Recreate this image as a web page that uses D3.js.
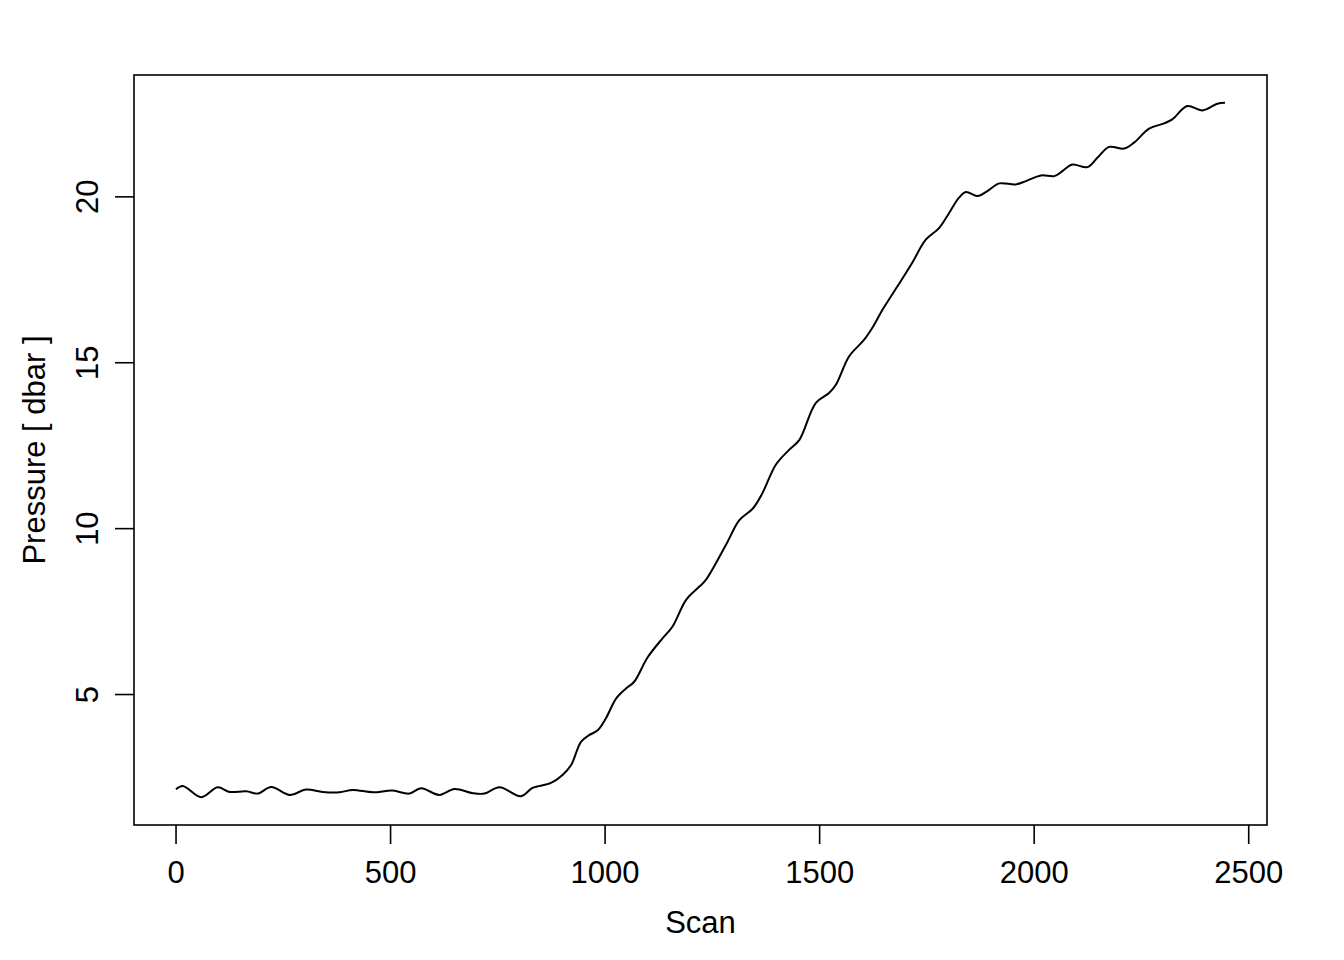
<!DOCTYPE html>
<html>
<head>
<meta charset="utf-8">
<script src="https://cdn.jsdelivr.net/npm/d3@7"></script>
<style>
  body { margin: 0; background: #fff; }
  text { font-family: "Liberation Sans", Arial, Helvetica, sans-serif; }
</style>
</head>
<body>
<svg></svg>
<script>
// Data (scan number vs. pressure in dbar)
const scan = [
  1, 17, 60, 98, 126, 165, 192, 223, 266, 304, 343, 382, 413, 460, 506, 545,
  572, 615, 650, 693, 720, 755, 805, 832, 875, 902, 922, 945, 964, 984, 1003,
  1027, 1050, 1069, 1100, 1135, 1158, 1190, 1221, 1236, 1283, 1314, 1346, 1368,
  1399, 1430, 1454, 1492, 1523, 1539, 1570, 1605, 1624, 1648, 1690, 1717, 1749,
  1780, 1803, 1826, 1842, 1869, 1892, 1920, 1958, 1982, 2017, 2048, 2067, 2090,
  2125, 2149, 2176, 2211, 2234, 2269, 2304, 2323, 2358, 2393, 2428, 2446
];
const pressure = [
  2.13, 2.23, 1.89, 2.19, 2.05, 2.07, 2.0, 2.2, 1.96, 2.12, 2.05, 2.04, 2.11,
  2.04, 2.09, 2.0, 2.16, 1.96, 2.14, 2.01, 2.0, 2.19, 1.92, 2.17, 2.32, 2.56,
  2.86, 3.56, 3.76, 3.91, 4.27, 4.87, 5.17, 5.37, 6.1, 6.68, 7.03, 7.84, 8.24,
  8.44, 9.5, 10.24, 10.6, 11.06, 11.91, 12.36, 12.66, 13.77, 14.07, 14.32,
  15.18, 15.68, 16.04, 16.59, 17.44, 18.0, 18.7, 19.05, 19.5, 19.96, 20.13,
  20.01, 20.16, 20.39, 20.36, 20.46, 20.63, 20.61, 20.76, 20.96, 20.88, 21.17,
  21.49, 21.44, 21.62, 22.04, 22.2, 22.32, 22.72, 22.59, 22.79, 22.82
];
const xTicks = [0, 500, 1000, 1500, 2000, 2500];
const yTicks = [5, 10, 15, 20];

const data = scan.map((s, i) => ({ scan: s, p: pressure[i] }));

const W = 1344, H = 960;
const box = { left: 134, right: 1267, top: 75, bottom: 825 };
const fontSize = 31;

const svg = d3.select("svg").attr("width", W).attr("height", H);
svg.append("rect").attr("width", W).attr("height", H).attr("fill", "#fff");

// R style: 4% padding around the data range
const pad = (ext) => {
  const d = (ext[1] - ext[0]) * 0.04;
  return [ext[0] - d, ext[1] + d];
};
const xScale = d3.scaleLinear()
  .domain(pad(d3.extent(scan)))
  .range([box.left, box.right]);
const yScale = d3.scaleLinear()
  .domain(pad(d3.extent(pressure)))
  .range([box.bottom, box.top]);

// x axis
const gx = svg.append("g")
  .attr("transform", `translate(0, ${box.bottom})`)
  .call(d3.axisBottom(xScale).tickValues(xTicks).tickSize(19).tickSizeOuter(0).tickFormat(d3.format("d")));
gx.select(".domain").remove();
gx.selectAll(".tick line").attr("stroke", "#000").attr("stroke-width", 1.6);
gx.selectAll(".tick text")
  .attr("y", 58).attr("dy", null)
  .attr("font-size", fontSize).attr("font-family", null).attr("fill", "#000");

// y axis
const gy = svg.append("g")
  .attr("transform", `translate(${box.left}, 0)`)
  .call(d3.axisLeft(yScale).tickValues(yTicks).tickSize(19).tickSizeOuter(0));
gy.select(".domain").remove();
gy.selectAll(".tick line").attr("stroke", "#000").attr("stroke-width", 1.6);
gy.selectAll(".tick text")
  .attr("x", null).attr("dy", null)
  .attr("transform", `translate(-36, 0) rotate(-90)`)
  .attr("text-anchor", "middle")
  .attr("font-size", fontSize).attr("font-family", null).attr("fill", "#000");

// plot frame
svg.append("rect")
  .attr("x", box.left).attr("y", box.top)
  .attr("width", box.right - box.left).attr("height", box.bottom - box.top)
  .attr("fill", "none").attr("stroke", "#000").attr("stroke-width", 1.6);

// axis titles
svg.append("text")
  .attr("x", (box.left + box.right) / 2).attr("y", 933)
  .attr("text-anchor", "middle").attr("font-size", fontSize)
  .text("Scan");

svg.append("text")
  .attr("transform", `translate(45, ${(box.top + box.bottom) / 2}) rotate(-90)`)
  .attr("text-anchor", "middle").attr("font-size", fontSize)
  .text("Pressure [ dbar ]");

// pressure trace
const line = d3.line()
  .x((d) => xScale(d.scan))
  .y((d) => yScale(d.p))
  .curve(d3.curveCatmullRom.alpha(0.5));

svg.append("path")
  .datum(data)
  .attr("d", line)
  .attr("fill", "none")
  .attr("stroke", "#000")
  .attr("stroke-width", 2);
</script>
</body>
</html>
